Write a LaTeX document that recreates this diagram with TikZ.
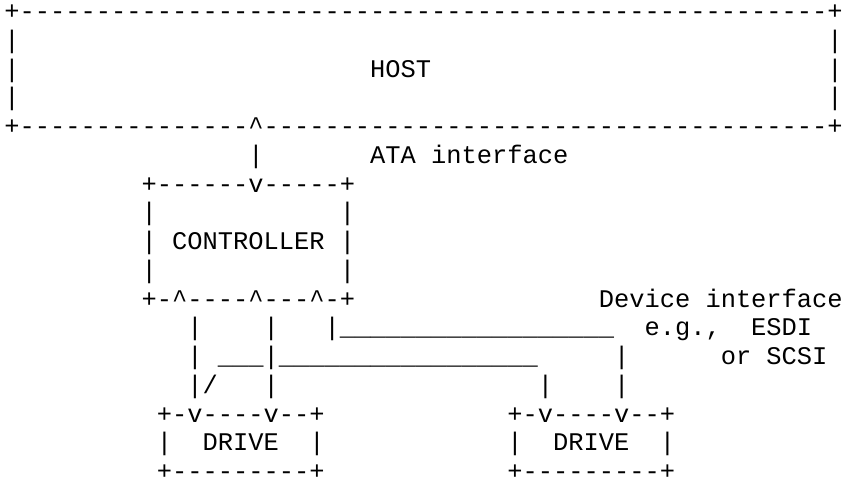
\documentclass[tikz,border=0pt]{standalone}
\usepackage{fontspec}
\setmonofont{Liberation Mono}
\tikzset{every node/.style={font=\ttfamily\fontsize{12.7pt}{14.4pt}\selectfont,
  inner sep=0pt, anchor=base west}}
% n copies of a character
\newcommand\rep[2]{\foreach\i in {1,...,#1}{#2}}

\begin{document}
\begin{tikzpicture}[x=7.62pt, y=-14.375pt]
  \useasboundingbox (-0.768,-0.678) rectangle (54.547,16.052);
  % host
  \node (hosttop) at (-0.5,0) {+\rep{53}{-}+};
  \foreach \r in {1,2,3} {
    \node (hostl\r) at (-0.5,\r) {|};
    \node (hostr\r) at (53.5,\r) {|};
  }
  \node (host) at (23.5,2) {HOST};
  \node (hostbot) at (-0.5,4) {+\rep{15}{-}\textasciicircum\rep{37}{-}+};
  \node (atabar) at (15.5,5) {|};
  \node (ata) at (23.5,5) {ATA interface};
  % controller
  \node (ctrltop) at (8.5,6) {+\rep{6}{-}v\rep{5}{-}+};
  \foreach \r in {7,8,9} {
    \node (ctrll\r) at (8.5,\r) {|};
    \node (ctrlr\r) at (21.5,\r) {|};
  }
  \node (ctrl) at (10.5,8) {CONTROLLER};
  \node (ctrlbot) at (8.5,10)
    {+-\textasciicircum\rep{4}{-}\textasciicircum\rep{3}{-}\textasciicircum-+};
  \node (dev) at (38.5,10) {Device interface};
  % device cables
  \foreach \r in {11,12,13} {
    \node (wa\r) at (11.5,\r) {|};
    \node (wb\r) at (16.5,\r) {|};
  }
  \node (wc) at (20.5,11) {|\rep{18}{\_}};
  \node (wd) at (13.5,12) {\rep{3}{\_}};
  \node (we) at (17.5,12) {\rep{17}{\_}};
  \node (slash) at (12.5,13) {/};
  \node (wf) at (34.5,13) {|};
  \node (wg12) at (39.5,12) {|};
  \node (wg13) at (39.5,13) {|};
  \node (esdi) at (41.5,11) {e.g.,~~ESDI};
  \node (scsi) at (46.5,12) {or SCSI};
  % drives
  \foreach \x/\n in {9.5/a, 32.5/b} {
    \node (drv\n-top) at (\x,14) {+-v\rep{4}{-}v--+};
    \node (drv\n-l) at (\x,15) {|};
    \node (drv\n) at (\x+3,15) {DRIVE};
    \node (drv\n-r) at (\x+10,15) {|};
    \node (drv\n-bot) at (\x,16) {+\rep{9}{-}+};
  }
\end{tikzpicture}
\end{document}
